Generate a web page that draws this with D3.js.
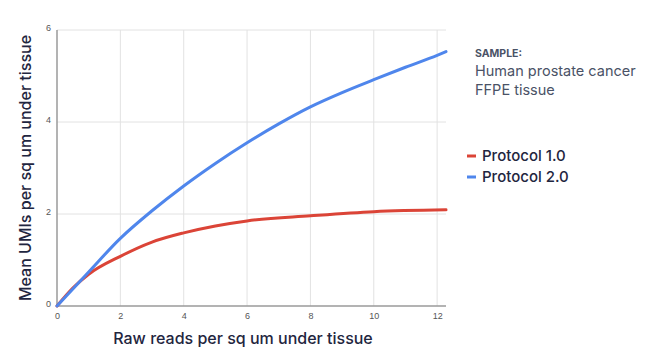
<!DOCTYPE html>
<html><head><meta charset="utf-8">
<script src="https://cdn.jsdelivr.net/npm/d3@7"></script>
<style>body{margin:0;background:#fff;} svg{display:block;}</style>
</head><body>
<svg id="c" width="650" height="360"></svg>
<script>
const xTicks = [0, 2, 4, 6, 8, 10, 12];
const yTicks = [0, 2, 4, 6];
const protocol1X = [0, 0.5, 1, 2, 3, 4, 5, 6, 8, 10, 12.28];
const protocol1Y = [0, 0.39, 0.69, 1.08, 1.39, 1.59, 1.74, 1.85, 1.96, 2.05, 2.09];
const protocol2X = [0, 1, 2, 3, 4, 5, 6, 7, 8, 9, 10, 11, 12, 12.28];
const protocol2Y = [0, 0.74, 1.47, 2.07, 2.61, 3.10, 3.55, 3.96, 4.33, 4.64, 4.92, 5.19, 5.45, 5.53];
const seriesNames = ["Protocol 1.0", "Protocol 2.0"];
const seriesColors = ["#db4437", "#4f86ec"];

const svg = d3.select("#c");
const x = d3.scaleLinear().domain([0, 12.28]).range([57, 446]);
const y = d3.scaleLinear().domain([0, 6]).range([306, 30]);

// grid
svg.append("g").selectAll("line").data(xTicks.filter(d => d > 0)).join("line")
  .attr("x1", d => x(d)).attr("x2", d => x(d)).attr("y1", y(6)).attr("y2", y(0))
  .attr("stroke", "#e2e2e2").attr("stroke-width", 1);
svg.append("g").selectAll("line").data(yTicks.filter(d => d > 0)).join("line")
  .attr("x1", x(0)).attr("x2", x(12.28)).attr("y1", d => y(d)).attr("y2", d => y(d))
  .attr("stroke", "#e2e2e2").attr("stroke-width", 1);

// axes
const fmt = d3.format("d");
const xAxis = svg.append("g").attr("transform", `translate(0,${y(0)})`)
  .call(d3.axisBottom(x).tickValues(xTicks).tickFormat(fmt).tickSize(0).tickPadding(7));
const yAxis = svg.append("g").attr("transform", `translate(${x(0)},0)`)
  .call(d3.axisLeft(y).tickValues(yTicks).tickFormat(fmt).tickSize(0).tickPadding(6));
[xAxis, yAxis].forEach(a => {
  a.select(".domain").attr("stroke", "#9a9a9a").attr("stroke-width", 1.5);
  a.selectAll("text").attr("fill", "#555").style("font-family", "Arial, 'Liberation Sans', sans-serif").style("font-size", "9px");
});
yAxis.selectAll(".tick text").attr("dy", "0.1em");
xAxis.select(".domain").attr("d", `M${x(0)},0H${x(12.28)}`);
yAxis.select(".domain").attr("d", `M0,${y(0)}V${y(6)}`);

// lines
const line = d3.line().x(d => x(d[0])).y(d => y(d[1])).curve(d3.curveMonotoneX);
const data = [
  protocol1X.map((v, i) => [v, protocol1Y[i]]),
  protocol2X.map((v, i) => [v, protocol2Y[i]])
];
svg.append("g").selectAll("path").data(data).join("path")
  .attr("d", line).attr("fill", "none")
  .attr("stroke", (d, i) => seriesColors[i]).attr("stroke-width", 3)
  .attr("stroke-linejoin", "round").attr("stroke-linecap", "round");

// axis titles
const titleFont = "Inter, 'Noto Sans', sans-serif";
svg.append("text").attr("x", 243).attr("y", 344).attr("text-anchor", "middle")
  .attr("fill", "#1f2640").style("font-family", titleFont).style("font-size", "16px").style("font-weight", 500)
  .text("Raw reads per sq um under tissue");
svg.append("text").attr("transform", "translate(31,168) rotate(-90)").attr("text-anchor", "middle")
  .attr("fill", "#1f2640").style("font-family", titleFont).style("font-size", "16px").style("font-weight", 500)
  .text("Mean UMIs per sq um under tissue");

// sample note
svg.append("text").attr("x", 475).attr("y", 57).attr("fill", "#4a5266")
  .style("font-family", titleFont).style("font-size", "10.5px").style("font-weight", 700).text("SAMPLE:");
svg.append("text").attr("x", 475).attr("y", 76).attr("fill", "#4a5266")
  .style("font-family", titleFont).style("font-size", "14.5px").text("Human prostate cancer");
svg.append("text").attr("x", 475).attr("y", 95).attr("fill", "#4a5266")
  .style("font-family", titleFont).style("font-size", "14.5px").text("FFPE tissue");

// legend
const lg = svg.append("g").selectAll("g").data(seriesNames).join("g")
  .attr("transform", (d, i) => `translate(467,${156 + i * 21})`);
lg.append("line").attr("x1", 0).attr("x2", 9).attr("y1", 0).attr("y2", 0)
  .attr("stroke", (d, i) => seriesColors[i]).attr("stroke-width", 3);
lg.append("text").attr("x", 15).attr("y", 0).attr("dy", "0.36em").attr("fill", "#1f2640")
  .style("font-family", titleFont).style("font-size", "15px").style("font-weight", 500).text(d => d);
</script>
</body></html>
